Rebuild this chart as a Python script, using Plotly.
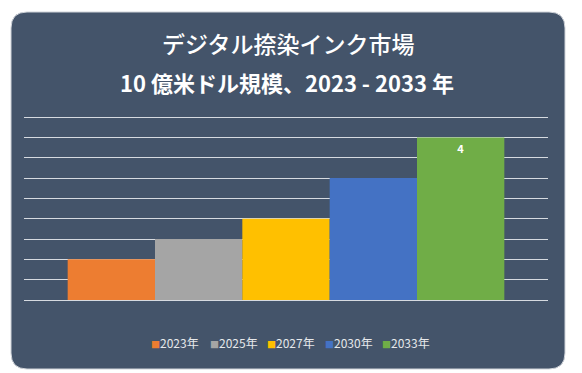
import plotly.graph_objects as go

# ---- data ----
years = ["2023年", "2025年", "2027年", "2030年", "2033年"]
values = [1.0, 1.5, 2.0, 3.0, 4.0]
labels = ["", "", "", "", "4"]
colors = ["#ED7D31", "#A5A5A5", "#FFC000", "#4472C4", "#70AD47"]
title_line1 = "デジタル捺染インク市場"
title_line2 = "10 億米ドル規模、2023 - 2033 年"

W, H = 582, 373
L, R, T, B = 24, 34, 113, 73
pw, ph = W - L - R, H - T - B
YMAX = 4.6


def px_x(p):
    return (p - L) / pw


def px_y(p):
    return (H - B - p) / ph


fig = go.Figure()
for yr, v, lab, c in zip(years, values, labels, colors):
    fig.add_trace(go.Bar(
        x=[yr], y=[v], name=yr, width=1,
        marker=dict(color=c, line=dict(width=0)),
        text=[lab], textposition="inside", insidetextanchor="end",
        textfont=dict(family="Noto Sans CJK JP", size=11, color="white", weight="bold"),
        showlegend=False, hoverinfo="x+y",
    ))

# rounded card background
x0, x1 = px_x(11), px_x(565)
y0, y1 = px_y(369), px_y(12)
rx, ry = 16 / pw, 16 / ph
path = (f"M {x0+rx},{y1} L {x1-rx},{y1} Q {x1},{y1} {x1},{y1-ry} "
        f"L {x1},{y0+ry} Q {x1},{y0} {x1-rx},{y0} L {x0+rx},{y0} "
        f"Q {x0},{y0} {x0},{y0+ry} L {x0},{y1-ry} Q {x0},{y1} {x0+rx},{y1} Z")
shapes = [dict(type="path", xref="paper", yref="paper", path=path,
               fillcolor="#44546A", line=dict(color="#cfd3d9", width=1), layer="below")]

annotations = [
    dict(text=title_line1, xref="paper", yref="paper", x=px_x(288), y=px_y(43),
         xanchor="center", yanchor="middle", showarrow=False,
         font=dict(family="Noto Sans CJK JP", size=23, color="white", weight=500)),
    dict(text=title_line2, xref="paper", yref="paper", x=px_x(287), y=px_y(82),
         xanchor="center", yanchor="middle", showarrow=False,
         font=dict(family="Noto Sans CJK JP", size=22, color="white", weight="bold")),
]

# legend entries
leg_x = [149, 208, 265, 323, 380]
for yr, c, lx in zip(years, colors, leg_x):
    annotations.append(dict(
        text=f'<span style="color:{c};font-size:9px">■</span>{yr}',
        xref="paper", yref="paper", x=px_x(lx), y=px_y(342),
        xanchor="left", yanchor="middle", showarrow=False,
        font=dict(family="Noto Sans CJK JP", size=12, color="#e6e8eb")))

fig.update_layout(
    width=W, height=H,
    margin=dict(l=L, r=R, t=T, b=B),
    paper_bgcolor="white", plot_bgcolor="rgba(0,0,0,0)",
    barmode="overlay",
    shapes=shapes, annotations=annotations,
    showlegend=False,
    xaxis=dict(type="category", categoryorder="array", categoryarray=years,
               range=[-1, 5], showticklabels=False, showgrid=False,
               zeroline=False, showline=False, ticks=""),
    yaxis=dict(range=[0, YMAX], dtick=0.5, tick0=0, showticklabels=False,
               showgrid=True, gridcolor="#d6dae0", gridwidth=1,
               zeroline=True, zerolinecolor="#d6dae0", zerolinewidth=1,
               showline=False, ticks=""),
)

fig.write_html("out.html", config={"displayModeBar": False},
               post_script="document.body.style.margin='0';document.body.style.padding='0';")
